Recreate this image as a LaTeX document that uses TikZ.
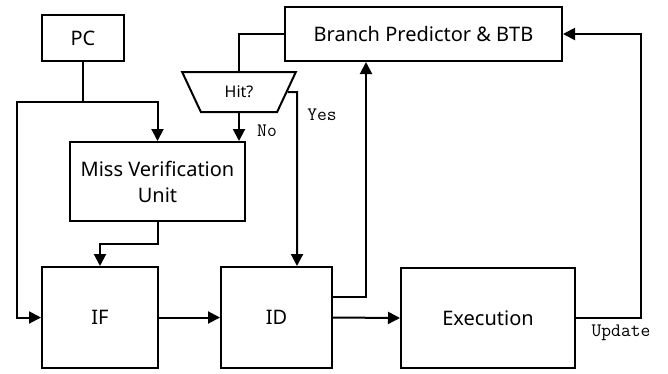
\documentclass[tikz,border=0pt]{standalone}
\usepackage{fontspec}
\setmainfont{Noto Sans}
\usetikzlibrary{shapes.geometric,arrows.meta}
\begin{document}
\begin{tikzpicture}[x=1pt,y=-1pt,
  box/.style={draw,line width=2pt,inner sep=0pt,align=center,font=\fontsize{20}{26}\selectfont},
  conn/.style={line width=2pt},
  arr/.style={conn,-{Triangle[length=12pt,width=12pt]}},
  lab/.style={font=\ttfamily\fontsize{19}{21}\selectfont,inner sep=0pt}]
\useasboundingbox (0,0) rectangle (668,373);
\node[box,minimum width=82pt,minimum height=46pt] (pc) at (83,38) {PC};
\node[box,minimum width=277pt,minimum height=54pt] (bpb) at (423.5,34) {Branch Predictor \& BTB};
\node[box,minimum width=175pt,minimum height=79pt] (mvu) at (157.5,181.5) {Miss Verification\\Unit};
\node[box,minimum width=116pt,minimum height=101pt] (if) at (100,317.5) {IF};
\node[box,minimum width=111pt,minimum height=101pt] (id) at (276.5,317.5) {ID};
\node[box,minimum width=174pt,minimum height=100pt] (ex) at (488,318) {Execution};
\node[draw,line width=2pt,trapezium,shape border rotate=180,trapezium stretches=true,
  trapezium left angle=59.6,trapezium right angle=59.6,inner sep=0pt,
  minimum width=114pt,minimum height=40pt,font=\fontsize{16}{20}\selectfont] (hit) at (239,92) {Hit?};
\coordinate (j1) at (83,102);
\coordinate (lft) at (17,102);
\coordinate (j2) at (157.5,244);
\coordinate (yc) at (297,92);
\coordinate (c3) at (366,297);
\coordinate (c4) at (641,318);
\draw[arr] (pc.south) -- (j1) -| (mvu.north);
\draw[arr] (j1) -- (lft) |- (if.west);
\draw[arr] (mvu.south) -- (j2) -| (if.north);
\draw[conn] (bpb.west) -| (hit.north);
\draw[arr] (hit.south) -- (hit.south |- mvu.north);
\draw[arr] (hit.east) -- (yc) -- (yc |- id.north);
\draw[arr] (if.east) -- (id.west);
\draw[arr] (id.east |- c3) -- (c3) -- (c3 |- bpb.south);
\draw[arr] (id.east) -- (ex.west);
\draw[arr] (ex.east) -- (c4) |- (bpb.east);
\node[lab] (no) at (267,131) {No};
\node[lab] (yes) at (322,115) {Yes};
\node[lab] (upd) at (621,333) {Update};
\end{tikzpicture}
\end{document}
